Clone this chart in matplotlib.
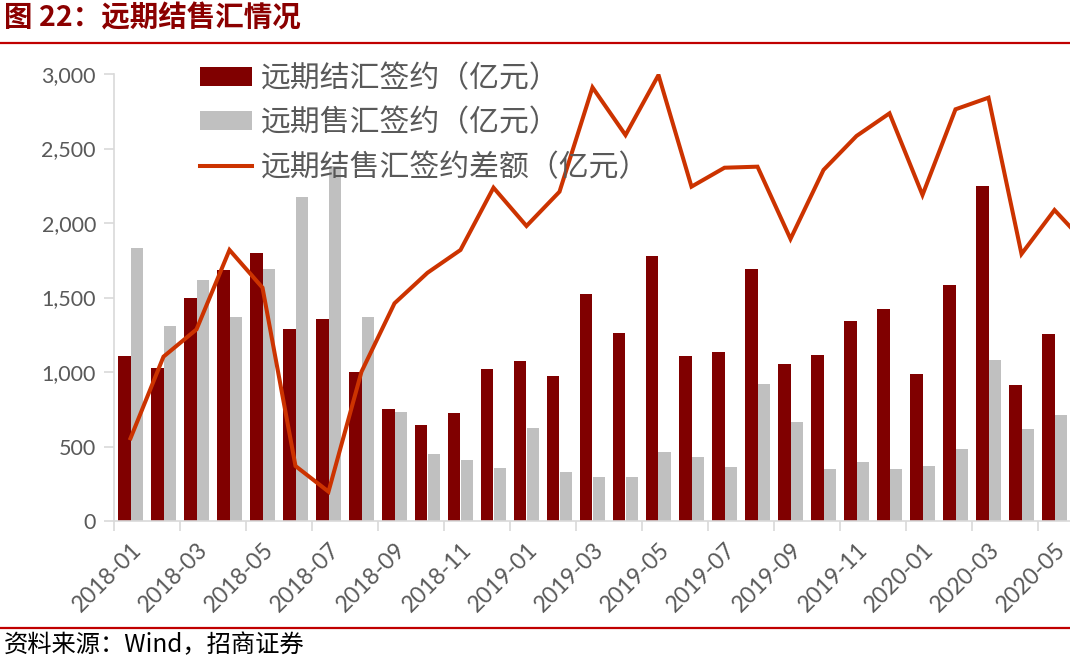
import matplotlib
matplotlib.use("Agg")
import matplotlib.pyplot as plt
import numpy as np

months = ["2018-01", "2018-02", "2018-03", "2018-04", "2018-05", "2018-06",
          "2018-07", "2018-08", "2018-09", "2018-10", "2018-11", "2018-12",
          "2019-01", "2019-02", "2019-03", "2019-04", "2019-05", "2019-06",
          "2019-07", "2019-08", "2019-09", "2019-10", "2019-11", "2019-12",
          "2020-01", "2020-02", "2020-03", "2020-04", "2020-05", "2020-06"]

settle = [1107, 1029, 1494, 1684, 1796, 1291, 1353, 1002, 754, 642, 727, 1020,
          1072, 973, 1521, 1260, 1781, 1107, 1136, 1691, 1051, 1114, 1344, 1425,
          989, 1586, 2246, 911, 1255, np.nan]
sale = [1830, 1309, 1620, 1367, 1689, 2174, 2380, 1371, 734, 447, 412, 356,
        622, 327, 297, 297, 465, 432, 362, 919, 664, 349, 396, 349,
        369, 481, 1080, 615, 711, np.nan]
diff = [555, 1103, 1286, 1819, 1566, 369, 197, 1002, 1461, 1666, 1819, 2237,
        1980, 2210, 2910, 2590, 2993, 2244, 2371, 2378, 1893, 2356, 2584, 2736,
        2188, 2763, 2841, 1792, 2087, 1850]

label_settle = "远期结汇签约（亿元）"
label_sale = "远期售汇签约（亿元）"
label_diff = "远期结售汇签约差额（亿元）"
title = "图 22：远期结售汇情况"
source = "资料来源：Wind，招商证券"

CJK = ["Noto Sans CJK SC", "DejaVu Sans"]
plt.rcParams["font.family"] = ["Lato", "Noto Sans CJK SC", "DejaVu Sans"]

W, H = 1070, 661
fig = plt.figure(figsize=(W / 100, H / 100), dpi=100)

# axes in pixel coordinates (right edge extends beyond the figure, as in the cropped reference)
left_px, right_px, top_px, bottom_px = 114, 1104, 74, 521
ax = fig.add_axes([left_px / W, 1 - bottom_px / H, (right_px - left_px) / W, (bottom_px - top_px) / H])

x = np.arange(len(months))
bw = 0.37
b1 = ax.bar(x - bw / 2, settle, width=bw, color="#800000", label=label_settle, zorder=2)
b2 = ax.bar(x + bw / 2, sale, width=bw, color="#C0C0C0", label=label_sale, zorder=2)
l1, = ax.plot(x, diff, color="#CC3300", lw=2.9, label=label_diff, zorder=3, solid_joinstyle="miter")

ax.set_xlim(-0.5, len(months) - 0.5)
ax.set_ylim(0, 3000)
yt = [0, 500, 1000, 1500, 2000, 2500, 3000]
ax.set_yticks(yt)
ax.set_yticklabels([f"{v:,}" for v in yt])

ax.set_xticks(x[::2])
ax.set_xticklabels(months[::2], rotation=45, ha="right", rotation_mode="anchor")
ax.set_xticks(np.arange(-0.5, len(months), 2), minor=True)
ax.tick_params(axis="x", which="major", length=0, pad=13, labelsize=16.5, labelcolor="#595959")
ax.tick_params(axis="x", which="minor", length=7, width=1.2, color="#D9D9D9", direction="out")
ax.tick_params(axis="y", length=7, width=1.2, color="#D9D9D9", labelsize=15.5, labelcolor="#595959", pad=6)

for s in ["top", "right"]:
    ax.spines[s].set_visible(False)
for s in ["left", "bottom"]:
    ax.spines[s].set_color("#D9D9D9")
    ax.spines[s].set_linewidth(1.2)

leg = fig.legend([b1, b2, l1], [label_settle, label_sale, label_diff],
                 loc="upper left", bbox_to_anchor=(200 / W, 1 - 63 / H), frameon=False,
                 prop={"family": CJK, "size": 21.5}, handlelength=1.75, handleheight=0.6,
                 handletextpad=0.3, labelspacing=0.45, borderpad=0, borderaxespad=0)
for t in leg.get_texts():
    t.set_color("#595959")

# title and separators
fig.text(4 / W, 1 - 18 / H, title, fontsize=20.5, fontweight="bold", color="#8B0000",
         va="center", ha="left", family=CJK)
fig.add_artist(plt.Line2D([0, 1], [1 - 43 / H, 1 - 43 / H], transform=fig.transFigure,
                          color="#C00000", lw=1.6))
fig.add_artist(plt.Line2D([0, 1], [1 - 628 / H, 1 - 628 / H], transform=fig.transFigure,
                          color="#C00000", lw=1.6))
fig.text(4 / W, 1 - 645 / H, source, fontsize=17.5, color="black", va="center", ha="left", family=CJK)

fig.savefig("out.png", dpi=100)
